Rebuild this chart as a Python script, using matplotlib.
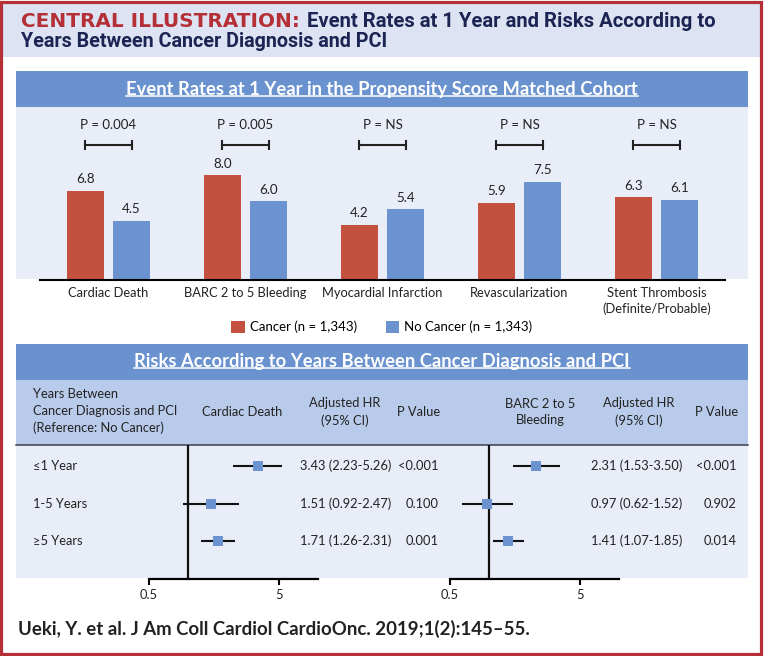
import matplotlib
matplotlib.use('Agg')
import matplotlib.pyplot as plt
from matplotlib import font_manager, ticker
from matplotlib.patches import Rectangle

# ---- data ----
events = ['Cardiac Death', 'BARC 2 to 5 Bleeding', 'Myocardial Infarction',
          'Revascularization', 'Stent Thrombosis\n(Definite/Probable)']
cancer = [6.8, 8.0, 4.2, 5.9, 6.3]
no_cancer = [4.5, 6.0, 5.4, 7.5, 6.1]
p_events = ['P = 0.004', 'P = 0.005', 'P = NS', 'P = NS', 'P = NS']

groups = ['≤1 Year', '1-5 Years', '≥5 Years']
cd_hr = [3.43, 1.51, 1.71]
cd_lo = [2.23, 0.92, 1.26]
cd_hi = [5.26, 2.47, 2.31]
cd_p = ['<0.001', '0.100', '0.001']
bl_hr = [2.31, 0.97, 1.41]
bl_lo = [1.53, 0.62, 1.07]
bl_hi = [3.50, 1.52, 1.85]
bl_p = ['<0.001', '0.902', '0.014']

# ---- colours / fonts ----
RED = '#c4503f'
BLUE = '#6a93d0'
BAND = '#6a92cf'
LIGHT = '#e8edf7'
COLHEAD = '#b9cbea'
TITLEBG = '#dde3f3'
BORDER = '#b42f36'
NAVY = '#1b2452'
TXT = '#222222'

names = {f.name for f in font_manager.fontManager.ttflist}
def pick(*fams):
    for f in fams:
        if f in names:
            return f
    return 'DejaVu Sans'

body = pick('Lato', 'Open Sans', 'Noto Sans')
head = pick('Roboto', 'Lato', 'Open Sans')
plt.rcParams['font.family'] = [body, 'DejaVu Sans']
FS = 9.3

W, H = 765, 656
fig = plt.figure(figsize=(W / 100, H / 100), dpi=100)
bg = fig.add_axes([0, 0, 1, 1])
bg.set_xlim(0, W)
bg.set_ylim(H, 0)
bg.axis('off')

def px_axes(x0, y0, x1, y1):
    return fig.add_axes([x0 / W, 1 - y1 / H, (x1 - x0) / W, (y1 - y0) / H])

def box(x0, y0, x1, y1, c):
    bg.add_patch(Rectangle((x0, y0), x1 - x0, y1 - y0, color=c, lw=0))

# backgrounds
box(2, 2, 762, 57, TITLEBG)
box(16, 71, 748, 107, BAND)
box(16, 107, 748, 279, LIGHT)
box(16, 344, 748, 380, BAND)
box(16, 380, 748, 445, COLHEAD)
box(16, 445, 748, 578, LIGHT)
bg.plot([16, 748], [445, 445], color='#3a3f4a', lw=1.1)
bg.add_patch(Rectangle((1.5, 1.5), 760, 652, fill=False, ec=BORDER, lw=2.3))

# title
t1 = bg.text(21, 27, 'CENTRAL ILLUSTRATION:', color=BORDER, fontsize=14.4,
             fontweight='bold', va='baseline', family='DejaVu Sans')
t3 = bg.text(21, 47, 'Years Between Cancer Diagnosis and PCI', color=NAVY,
             fontsize=14.2, fontweight='bold', va='baseline', family=head)

# band titles
h1 = bg.text(382, 89, 'Event Rates at 1 Year in the Propensity Score Matched Cohort',
             color='white', fontsize=13.2, fontweight='bold', ha='center', va='center')
h2 = bg.text(382, 361, 'Risks According to Years Between Cancer Diagnosis and PCI',
             color='white', fontsize=13.2, fontweight='bold', ha='center', va='center')
fig.canvas.draw()
r = fig.canvas.get_renderer()
x_end = t1.get_window_extent(r).x1
bg.text(x_end + 7, 27, 'Event Rates at 1 Year and Risks According to', color=NAVY,
        fontsize=14.6, fontweight='bold', va='baseline', family=head)
for h in (h1, h2):
    bb = h.get_window_extent(r)
    yy = H - bb.y0 - 1.5
    bg.plot([bb.x0, bb.x1], [yy, yy], color='white', lw=1.1)

# ---- bar chart ----
ax = px_axes(40, 107, 725, 280)
ax.set_facecolor('none')
xs = list(range(len(events)))
off, bw = 0.168, 0.27
ax.bar([x - off for x in xs], cancer, width=bw, color=RED, label='Cancer (n = 1,343)')
ax.bar([x + off for x in xs], no_cancer, width=bw, color=BLUE, label='No Cancer (n = 1,343)')
for x, a, b in zip(xs, cancer, no_cancer):
    for xx, v in ((x - off, a), (x + off, b)):
        ax.annotate(f'{v:.1f}', (xx, v), xytext=(0, 4), textcoords='offset points',
                    ha='center', va='bottom', fontsize=9.6, color=TXT)
for x, p in zip(xs, p_events):
    yb = 10.3
    ax.plot([x - off, x + off], [yb, yb], color=TXT, lw=1.5)
    for e in (x - off, x + off):
        ax.plot([e, e], [yb - 0.32, yb + 0.32], color=TXT, lw=1.5)
    ax.text(x, 11.8, p, ha='center', va='center', fontsize=9.5, color=TXT)
ax.set_xlim(-0.5, 4.5)
ax.set_ylim(0, 13.2)
ax.set_yticks([])
ax.set_xticks(xs)
ax.set_xticklabels(events, fontsize=9.3, color=TXT, linespacing=1.3)
ax.tick_params(axis='x', length=0, pad=5)
for s in ('top', 'left', 'right'):
    ax.spines[s].set_visible(False)
ax.spines['bottom'].set_linewidth(1.5)
fig.legend(*ax.get_legend_handles_labels(), loc='center', ncol=2,
           bbox_to_anchor=(382 / W, 1 - 327 / H), frameon=False, fontsize=9.5,
           handlelength=1.0, handleheight=1.0, handletextpad=0.4, columnspacing=2.2)

# ---- table header ----
bg.text(33, 411, 'Years Between\nCancer Diagnosis and PCI\n(Reference: No Cancer)',
        ha='left', va='center', fontsize=FS, color=TXT, linespacing=1.45)
for x, s in ((242, 'Cardiac Death'), (345, 'Adjusted HR\n(95% CI)'), (419, 'P Value'),
             (540, 'BARC 2 to 5\nBleeding'), (639, 'Adjusted HR\n(95% CI)'), (717, 'P Value')):
    bg.text(x, 412, s, ha='center', va='center', fontsize=FS, color=TXT, linespacing=1.45)

# ---- forest plots ----
row_y = [466 + 37.5 * i for i in range(len(groups))]
for g, y in zip(groups, row_y):
    bg.text(33, y, g, ha='left', va='center', fontsize=FS, color=TXT)

def forest(x0, x1, hr, lo, hi, pv, x_hr, x_p):
    fa = px_axes(x0, 445, x1, 579)
    fa.set_facecolor('none')
    fa.set_xscale('log')
    fa.set_xlim(0.5, 10)
    fa.set_ylim(3.013, -0.56)
    rows = list(range(len(hr)))
    fa.errorbar(hr, rows, xerr=[[h - l for h, l in zip(hr, lo)], [u - h for h, u in zip(hr, hi)]],
                fmt='none', ecolor='#111111', elinewidth=1.5, capsize=0, zorder=2)
    fa.axvline(1, color='#111111', lw=1.6, zorder=1)
    fa.plot(hr, rows, 's', color=BLUE, ms=7, mew=0, zorder=3)
    fa.set_yticks([])
    fa.set_xticks([0.5, 5])
    fa.set_xticklabels(['0.5', '5'], fontsize=FS, color=TXT)
    fa.xaxis.set_minor_locator(ticker.NullLocator())
    fa.tick_params(axis='x', length=4, width=1.5, pad=3)
    for s in ('top', 'left', 'right'):
        fa.spines[s].set_visible(False)
    fa.spines['bottom'].set_linewidth(1.6)
    for h, l, u, p, y in zip(hr, lo, hi, pv, row_y):
        bg.text(x_hr, y, f'{h:.2f} ({l:.2f}-{u:.2f})', ha='center', va='center',
                fontsize=FS, color=TXT)
        bg.text(x_p, y, p, ha='right', va='center', fontsize=FS, color=TXT)

forest(149, 318, cd_hr, cd_lo, cd_hi, cd_p, 346, 439)
forest(450, 619, bl_hr, bl_lo, bl_hi, bl_p, 637, 737)

# citation
bg.text(18, 629, 'Ueki, Y. et al. J Am Coll Cardiol CardioOnc. 2019;1(2):145\u201355.',
        ha='left', va='center', fontsize=13.4, fontweight='bold', color=TXT)

fig.savefig('out.png', dpi=100)
